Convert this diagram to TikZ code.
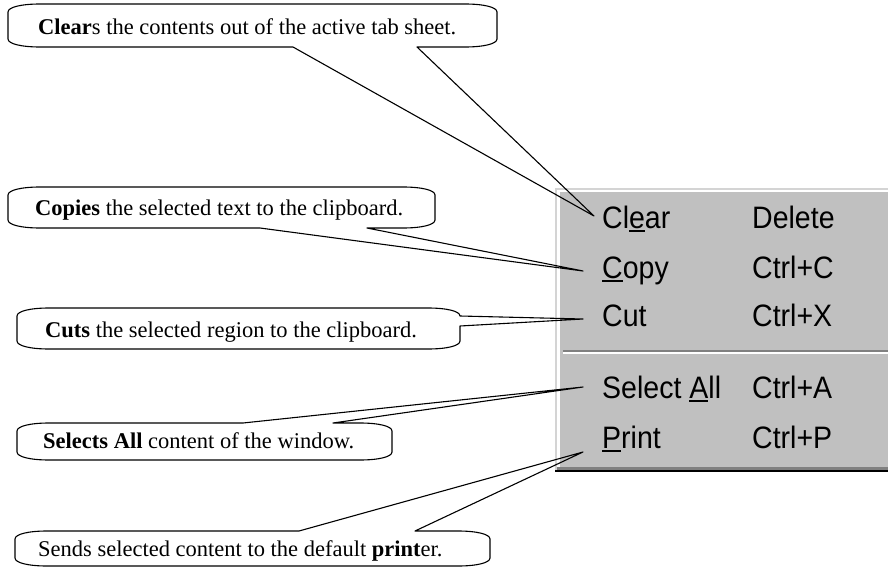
\documentclass[tikz,border=0pt]{standalone}
\usepackage{fontspec}
\setmainfont{Liberation Serif}
\newfontfamily\menufont[FakeStretch=0.92]{Liberation Sans}
\definecolor{menugrey}{RGB}{192,192,192}
\definecolor{menulight}{RGB}{212,212,212}
\definecolor{menudark}{RGB}{128,128,128}
% access-key underline under one letter
\newcommand\acckey[1]{\setbox0\hbox{#1}\rlap{\rule[-3.5pt]{\wd0}{2pt}}\box0}
\tikzset{
  calloutline/.style={draw=black, line width=1.1pt, line join=round},
  note/.style={anchor=base west, inner sep=0pt, font=\fontsize{22.5}{27}\selectfont},
  item/.style={anchor=base west, inner sep=0pt, font=\menufont\fontsize{31}{36}\selectfont},
}
\begin{document}
\begin{tikzpicture}[x=1pt,y=-1pt]
\fill[white] (0,0) rectangle (888,567);
\useasboundingbox (0,0) rectangle (888,567);

% ---- context menu panel ----
\fill[black]     (555,188) rectangle (888,472);
\fill[menulight] (555,188) rectangle (888,470);
\fill[menudark]  (557,190) rectangle (888,470);
\fill[white]     (557,190) rectangle (888,467);
\fill[menugrey]  (560,192) rectangle (888,467);
% separator
\fill[menudark] (563,350) rectangle (888,352);
\fill[white]    (563,352) rectangle (888,354);

% menu entries
\node[item] (mClear)  at (602,228) {Cl\acckey{e}ar};
\node[item] (kClear)  at (752,228) {Delete};
\node[item] (mCopy)   at (602,278) {\acckey{C}opy};
\node[item] (kCopy)   at (752,278) {Ctrl+C};
\node[item] (mCut)    at (602,326) {Cut};
\node[item] (kCut)    at (752,326) {Ctrl+X};
\node[item] (mSelect) at (602,398) {Select \acckey{A}ll};
\node[item] (kSelect) at (752,398) {Ctrl+A};
\node[item] (mPrint)  at (602,448) {\acckey{P}rint};
\node[item] (kPrint)  at (752,448) {Ctrl+P};

% pointer tips next to the entries
\coordinate (tipClear)  at (594,216);
\coordinate (tipCopy)   at (583,271);
\coordinate (tipCut)    at (583,319);
\coordinate (tipSelect) at (583,387);
\coordinate (tipPrint)  at (583,452);

% ---- callouts ----
% Clear
\draw[calloutline] (293,47) -- (tipClear) -- (417,47) -- (465,47)
  .. controls (483,47) and (497,44) .. (497,39) -- (497,12)
  .. controls (497,7) and (483,4) .. (465,4) -- (40,4)
  .. controls (22,4) and (8,7) .. (8,12) -- (8,39)
  .. controls (8,44) and (22,47) .. (40,47) -- cycle;
\node[note] (cClear) at (38,35) {\textbf{Clear}s the contents out of the active tab sheet.};

% Copy
\draw[calloutline] (260,228) -- (tipCopy) -- (367,228) -- (403,228)
  .. controls (421,228) and (435,225) .. (435,220) -- (435,195)
  .. controls (435,190) and (421,187) .. (403,187) -- (40,187)
  .. controls (22,187) and (8,190) .. (8,195) -- (8,220)
  .. controls (8,225) and (22,228) .. (40,228) -- cycle;
\node[note] (cCopy) at (35,215) {\textbf{Copies} the selected text to the clipboard.};

% Cut
\draw[calloutline] (460,316) -- (tipCut) -- (460,326) -- (460,341)
  .. controls (460,346) and (446,349) .. (428,349) -- (49,349)
  .. controls (31,349) and (17,346) .. (17,341) -- (17,316)
  .. controls (17,311) and (31,308) .. (49,308) -- (428,308)
  .. controls (446,308) and (460,311) .. (460,316) -- cycle;
\node[note] (cCut) at (45,337) {\textbf{Cuts} the selected region to the clipboard.};

% Select All
\draw[calloutline] (243,423) -- (tipSelect) -- (333,423) -- (360,423)
  .. controls (378,423) and (392,426) .. (392,431) -- (392,452)
  .. controls (392,457) and (378,460) .. (360,460) -- (49,460)
  .. controls (31,460) and (17,457) .. (17,452) -- (17,431)
  .. controls (17,426) and (31,423) .. (49,423) -- cycle;
\node[note] (cSelect) at (43,448) {\textbf{Selects All} content of the window.};

% Print
\draw[calloutline] (299,531) -- (tipPrint) -- (415,531) -- (458,531)
  .. controls (476,531) and (490,534) .. (490,539) -- (490,558)
  .. controls (490,563) and (476,566) .. (458,566) -- (47,566)
  .. controls (29,566) and (15,563) .. (15,558) -- (15,539)
  .. controls (15,534) and (29,531) .. (47,531) -- cycle;
\node[note] (cPrint) at (38,556) {Sends selected content to the default \textbf{print}er.};
\end{tikzpicture}
\end{document}
